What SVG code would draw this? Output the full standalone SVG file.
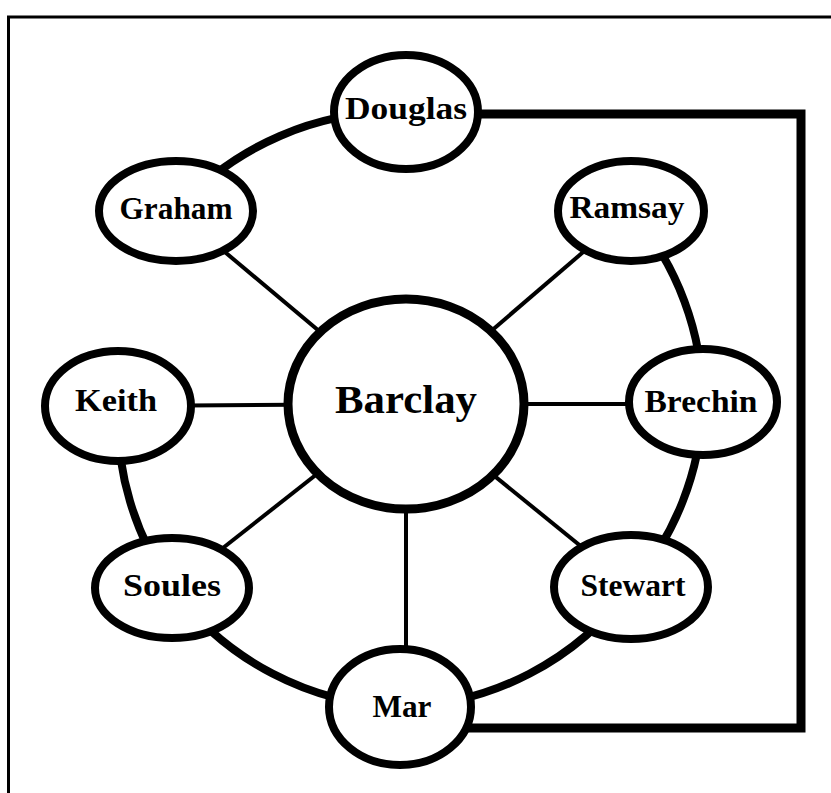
<svg xmlns="http://www.w3.org/2000/svg" width="831" height="793" viewBox="0 0 831 793">
<style>
.node{fill:#fff;stroke:#000;stroke-width:8}
.hub{fill:#fff;stroke:#000;stroke-width:9}
.lbl{font-family:"Liberation Serif","Times New Roman",serif;font-weight:bold;font-size:31px;fill:#000;text-anchor:middle}
.big{font-size:41px}
.spoke{stroke:#000;stroke-width:4;fill:none}
.arc{stroke:#000;stroke-width:8;fill:none}
.bracket{stroke:#000;stroke-width:9;fill:none;stroke-linejoin:miter}
.frame{stroke:#000;stroke-width:3;fill:none}
</style>
<rect x="0" y="0" width="831" height="793" fill="#fff"/>
<path class="frame" d="M8.5 793 V17 H831"/>
<g id="connectors">
<path class="spoke" d="M406 404 L176 211"/>
<path class="spoke" d="M406 404 L631 211"/>
<path class="spoke" d="M406 404 L118 406"/>
<path class="spoke" d="M406 404 L703 404"/>
<path class="spoke" d="M406 404 L172 588"/>
<path class="spoke" d="M406 404 L631 587"/>
<path class="spoke" d="M406 404 L406 707"/>
<path class="arc" d="M176 211 A296 296 0 0 1 406 112"/>
<path class="arc" d="M631 211 A296 296 0 0 1 703 404"/>
<path class="arc" d="M703 404 A296 296 0 0 1 631 587"/>
<path class="arc" d="M631 587 A296 296 0 0 1 400 707"/>
<path class="arc" d="M400 707 A296 296 0 0 1 172 588"/>
<path class="arc" d="M172 588 A296 296 0 0 1 118 406"/>
<path class="bracket" d="M460 114 H801 V728 H460"/>
</g>
<g id="Douglas"><ellipse class="node" cx="406" cy="112" rx="72" ry="57"/><text class="lbl" x="406" y="119" textLength="122" lengthAdjust="spacingAndGlyphs">Douglas</text></g>
<g id="Graham"><ellipse class="node" cx="176" cy="211" rx="77" ry="50"/><text class="lbl" x="176" y="219" textLength="113" lengthAdjust="spacingAndGlyphs">Graham</text></g>
<g id="Ramsay"><ellipse class="node" cx="631" cy="211" rx="73" ry="50"/><text class="lbl" x="627" y="218" textLength="115" lengthAdjust="spacingAndGlyphs">Ramsay</text></g>
<g id="Keith"><ellipse class="node" cx="118" cy="406" rx="73" ry="55"/><text class="lbl" x="116" y="411" textLength="82" lengthAdjust="spacingAndGlyphs">Keith</text></g>
<g id="Barclay"><ellipse class="hub" cx="406" cy="404" rx="118" ry="105"/><text class="lbl big" x="406" y="413" textLength="142" lengthAdjust="spacingAndGlyphs">Barclay</text></g>
<g id="Brechin"><ellipse class="node" cx="703" cy="402" rx="74" ry="53"/><text class="lbl" x="701" y="412" textLength="113" lengthAdjust="spacingAndGlyphs">Brechin</text></g>
<g id="Soules"><ellipse class="node" cx="172" cy="588" rx="77" ry="50"/><text class="lbl" x="172" y="596" textLength="98" lengthAdjust="spacingAndGlyphs">Soules</text></g>
<g id="Stewart"><ellipse class="node" cx="631" cy="587" rx="77" ry="52"/><text class="lbl" x="633" y="596" textLength="105" lengthAdjust="spacingAndGlyphs">Stewart</text></g>
<g id="Mar"><ellipse class="node" cx="400" cy="707" rx="71" ry="58"/><text class="lbl" x="402" y="717" textLength="59" lengthAdjust="spacingAndGlyphs">Mar</text></g>
</svg>
